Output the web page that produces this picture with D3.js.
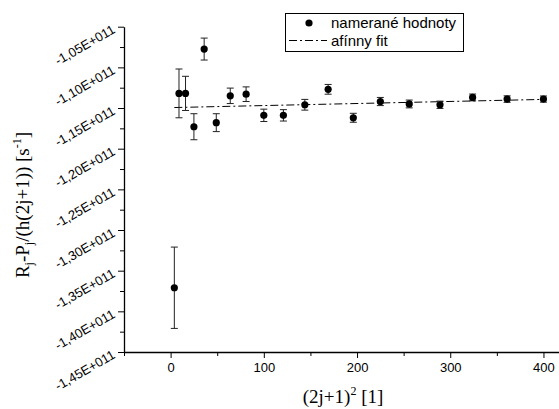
<!DOCTYPE html>
<html>
<head>
<meta charset="utf-8">
<script src="https://d3js.org/d3.v7.min.js"></script>
<style>
  body { margin: 0; background: #fff; }
  svg { display: block; }
</style>
</head>
<body>
<script>
const width = 559, height = 409;

// (2j+1)^2 values and measured points (units of 1e11 s^-1)
const xValues = [4, 9, 16, 25, 36, 49, 64, 81, 100, 121, 144, 169, 196, 225, 256, 289, 324, 361, 400];
const yValues = [-1.371, -1.132, -1.132, -1.173, -1.0775, -1.168, -1.135, -1.133, -1.159, -1.159,
                 -1.146, -1.127, -1.162, -1.142, -1.145, -1.146, -1.137, -1.139, -1.139];
const yErrors = [0.05, 0.03, 0.021, 0.016, 0.0135, 0.011, 0.0095, 0.009, 0.0076, 0.007,
                 0.0066, 0.006, 0.0055, 0.005, 0.0048, 0.0045, 0.0042, 0.004, 0.0038];

// affine fit end points
const fitX = [4, 400];
const fitY = [-1.1494, -1.1394];

const xTicks = [0, 100, 200, 300, 400];
const xMinorTicks = [-50, 50, 150, 250, 350];
const yTicks = [-1.05, -1.10, -1.15, -1.20, -1.25, -1.30, -1.35, -1.40, -1.45];
const yTickLabels = ["-1,05E+011", "-1,10E+011", "-1,15E+011", "-1,20E+011", "-1,25E+011",
                     "-1,30E+011", "-1,35E+011", "-1,40E+011", "-1,45E+011"];
const yMinorTicks = [-1.075, -1.125, -1.175, -1.225, -1.275, -1.325, -1.375, -1.425];

const x = d3.scaleLinear().domain([-50, 420]).range([124, 562.1]);
const y = d3.scaleLinear().domain([-1.45, -1.05]).range([352, 26.7]);

const svg = d3.select("body").append("svg")
    .attr("width", width)
    .attr("height", height)
    .style("font-family", "Liberation Sans, Arial, sans-serif");

// x axis
const xAxis = svg.append("g")
    .attr("transform", "translate(0," + y(-1.45) + ")")
    .call(d3.axisBottom(x).tickValues(xTicks).tickSize(6).tickPadding(5).tickSizeOuter(0));
xAxis.select(".domain").attr("stroke-width", 1.3);
xAxis.selectAll("text").attr("font-size", 13).attr("font-family", "Liberation Sans, Arial, sans-serif");
svg.append("g")
    .attr("transform", "translate(0," + y(-1.45) + ")")
    .call(d3.axisBottom(x).tickValues(xMinorTicks).tickSize(4).tickFormat("").tickSizeOuter(0))
    .select(".domain").remove();

// y axis
const yAxis = svg.append("g")
    .attr("transform", "translate(" + x(-50) + ",0)")
    .call(d3.axisLeft(y).tickValues(yTicks).tickSize(6).tickSizeOuter(0)
        .tickFormat((d, i) => yTickLabels[i]));
yAxis.select(".domain").attr("stroke-width", 1.3);
yAxis.selectAll("text")
    .attr("font-size", 13)
    .attr("font-family", "Liberation Sans, Arial, sans-serif")
    .attr("x", null)
    .attr("dy", null)
    .attr("text-anchor", "end")
    .attr("transform", "translate(-8,5) rotate(-30)");
svg.append("g")
    .attr("transform", "translate(" + x(-50) + ",0)")
    .call(d3.axisLeft(y).tickValues(yMinorTicks).tickSize(4).tickFormat("").tickSizeOuter(0))
    .select(".domain").remove();

// fit line
svg.append("line")
    .attr("x1", x(fitX[0])).attr("y1", y(fitY[0]))
    .attr("x2", x(fitX[1])).attr("y2", y(fitY[1]))
    .attr("stroke", "#000")
    .attr("stroke-width", 1)
    .attr("stroke-dasharray", "8,3,2,3");

const points = xValues.map((v, i) => ({ x: v, y: yValues[i], e: yErrors[i] }));

// error bars
const eb = svg.append("g").attr("stroke", "#222").attr("stroke-width", 1);
eb.selectAll("line.bar")
    .data(points)
    .enter().append("line")
    .attr("x1", d => x(d.x)).attr("x2", d => x(d.x))
    .attr("y1", d => y(d.y - d.e)).attr("y2", d => y(d.y + d.e));
eb.selectAll("line.capTop")
    .data(points)
    .enter().append("line")
    .attr("x1", d => x(d.x) - 3.5).attr("x2", d => x(d.x) + 3.5)
    .attr("y1", d => y(d.y + d.e)).attr("y2", d => y(d.y + d.e));
eb.selectAll("line.capBot")
    .data(points)
    .enter().append("line")
    .attr("x1", d => x(d.x) - 3.5).attr("x2", d => x(d.x) + 3.5)
    .attr("y1", d => y(d.y - d.e)).attr("y2", d => y(d.y - d.e));

// points
svg.selectAll("circle.pt")
    .data(points)
    .enter().append("circle")
    .attr("cx", d => x(d.x))
    .attr("cy", d => y(d.y))
    .attr("r", 3.6)
    .attr("fill", "#000");

// legend
const lg = svg.append("g");
lg.append("rect")
    .attr("x", 285.5).attr("y", 13.5)
    .attr("width", 178).attr("height", 38)
    .attr("fill", "#fff").attr("stroke", "#000").attr("stroke-width", 1);
lg.append("circle").attr("cx", 309).attr("cy", 23).attr("r", 3.6).attr("fill", "#000");
lg.append("text").attr("x", 331).attr("y", 28)
    .attr("font-size", 15).text("namerané hodnoty");
lg.append("line")
    .attr("x1", 289).attr("x2", 327).attr("y1", 40.5).attr("y2", 40.5)
    .attr("stroke", "#000").attr("stroke-dasharray", "8,3,2,3");
lg.append("text").attr("x", 331).attr("y", 45.5)
    .attr("font-size", 15).text("afínny fit");

// axis titles
const serif = "Liberation Serif, Times New Roman, serif";
const xt = svg.append("text")
    .attr("x", 343).attr("y", 403)
    .attr("text-anchor", "middle")
    .attr("font-family", serif)
    .attr("font-size", 19);
xt.append("tspan").text("(2j+1)");
xt.append("tspan").attr("font-size", 12).attr("dy", -8).text("2");
xt.append("tspan").attr("dy", 8).text(" [1]");

const yt = svg.append("text")
    .attr("transform", "translate(29,205) rotate(-90)")
    .attr("text-anchor", "middle")
    .attr("font-family", serif)
    .attr("font-size", 19);
yt.append("tspan").text("R");
yt.append("tspan").attr("font-size", 12).attr("dy", 4).text("j");
yt.append("tspan").attr("dy", -4).text("-P");
yt.append("tspan").attr("font-size", 12).attr("dy", 4).text("j");
yt.append("tspan").attr("dy", -4).text("/(h(2j+1)) [s");
yt.append("tspan").attr("font-size", 12).attr("dy", -8).text("-1");
yt.append("tspan").attr("dy", 8).text("]");
</script>
</body>
</html>
